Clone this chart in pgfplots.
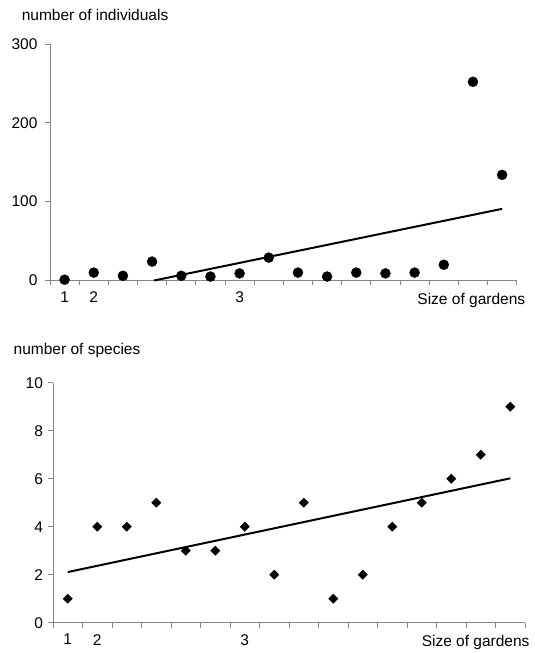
\documentclass[border=0pt]{standalone}
\usepackage{fontspec}
\setmainfont{Liberation Sans}
\usepackage{pgfplots}
\usepackage{pgfplotstable}
\pgfplotsset{compat=1.18}
\definecolor{axisgray}{RGB}{134,134,134}

% individuals counted per garden (gardens ordered by size)
\pgfplotstableread{
k   n
1   1
2   10
3   6
4   24
5   6
6   5
7   9
8   29
9   10
10  5
11  10
12  9
13  10
14  20
15  252
16  134
}\individuals

% species counted per garden
\pgfplotstableread{
k   s
1   1
2   4
3   4
4   5
5   3
6   3
7   4
8   2
9   5
10  1
11  2
12  4
13  5
14  6
15  7
16  9
}\species

\newcommand{\chartfont}{\fontsize{15.5}{18}\selectfont}

\pgfplotsset{
  garden/.style={
    scale only axis,
    axis x line*=bottom, axis y line*=left,
    axis line style={axisgray,-,line width=0.8pt},
    every tick/.style={axisgray,line width=0.8pt},
    tick align=outside,
    major tick length=5pt,
    xmin=0.5, xmax=16.5,
    xtick={0.5,1.5,...,16.5}, xticklabels={},
    extra x ticks={1,2,7}, extra x tick labels={1,2,3},
    extra x tick style={major tick length=0pt, xticklabel style={yshift=-8pt}},
    tick label style={font=\chartfont, black},
    /pgf/number format/assume math mode=true,
    clip=false,
  },
}

\begin{document}
\begin{tikzpicture}
\useasboundingbox (0,0) rectangle (535pt,653pt);

% number of individuals
\begin{axis}[garden,
  at={(50pt,372.5pt)}, anchor=south west,
  width=466.7pt, height=236.5pt,
  ymin=0, ymax=300, ytick={0,100,200,300},
  yticklabel style={xshift=-4pt},
]
\addplot[only marks, mark=*, mark size=5pt, black] table[x=k, y=n] {\individuals};
% least-squares trend line, cut at the x axis
\addplot[black, line width=2pt] coordinates {(4.07,0) (16,90.9)};
\node[anchor=base east, font=\chartfont, xshift=12pt, yshift=-24pt]
  at (rel axis cs:1,0) {Size of gardens};
\end{axis}

% number of species
\begin{axis}[garden,
  at={(53pt,30.3pt)}, anchor=south west,
  width=472pt, height=240pt,
  ymin=0, ymax=10, ytick={0,2,...,10},
  yticklabel style={xshift=-1.5pt},
]
\addplot[only marks, mark=square*, mark size=3.3pt, mark options={rotate=45}, black]
  table[x=k, y=s] {\species};
\addplot[black, line width=2pt] coordinates {(1,2.11) (16,6.015)};
\node[anchor=base east, font=\chartfont, xshift=8pt, yshift=-24pt]
  at (rel axis cs:1,0) {Size of gardens};
\end{axis}

\node[anchor=base west, font=\chartfont] at (18.3pt,632.5pt) {number of individuals};
\node[anchor=base west, font=\chartfont] at (10.2pt,298pt) {number of species};
\end{tikzpicture}
\end{document}
